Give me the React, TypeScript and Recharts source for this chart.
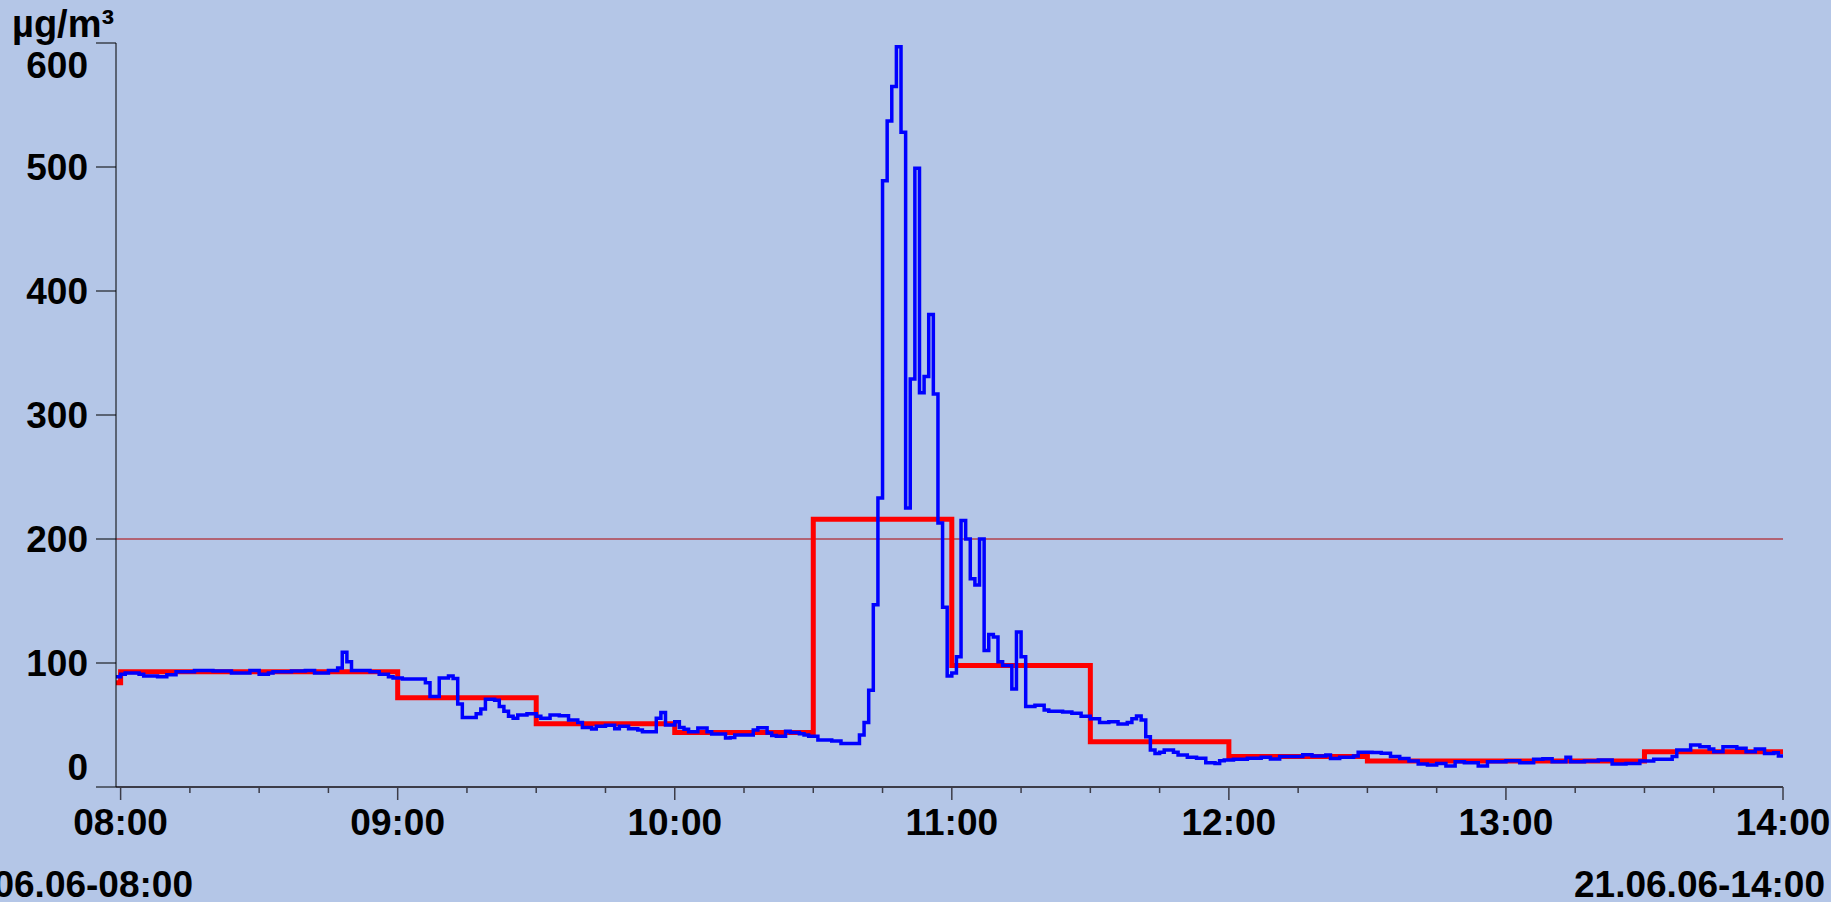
import { Line, LineChart, ReferenceLine, XAxis, YAxis } from 'recharts'

const BG = '#B4C6E7'
const AXIS = '#3c3c48'
const FONT = '"Liberation Sans", Arial, sans-serif'

// minutes after 08:00 → 1-min readings (blue), half-hour means (red)
const BLUE_T = [
  -1, 0, 1, 4, 5, 8, 10, 12, 16, 20, 24, 28, 30, 32, 33, 37, 40, 42, 45, 47, 48, 49, 50, 54, 56, 58, 59, 61, 65, 66,
  67, 69, 71, 72, 73, 74, 77, 78, 79, 81, 82, 83, 84, 85, 86, 88, 90, 91, 93, 95, 97, 99, 100, 102, 103, 105, 107,
  108, 110, 112, 113, 116, 117, 118, 120, 121, 122, 123, 125, 127, 128, 131, 132, 133, 137, 138, 140, 141, 142, 144,
  145, 147, 148, 149, 150, 151, 154, 156, 160, 161, 162, 163, 164, 165, 166, 167, 168, 169, 170, 171, 172, 173, 174,
  175, 176, 177, 178, 179, 180, 181, 182, 183, 184, 185, 186, 187, 188, 189, 190, 191, 193, 194, 195, 196, 198, 200,
  201, 204, 206, 208, 210, 212, 214, 216, 218, 219, 220, 221, 222, 223, 224, 225, 226, 228, 229, 231, 233, 235, 237,
  238, 239, 241, 244, 247, 249, 251, 254, 256, 258, 261, 262, 264, 267, 268, 271, 273, 275, 277, 279, 281, 283, 285,
  287, 289, 291, 294, 296, 300, 303, 306, 308, 310, 313, 314, 317, 320, 323, 326, 329, 332, 336, 337, 340, 342, 344,
  345, 347, 350, 352, 354, 356, 358, 359, 360,
]
const BLUE_V = [
  89, 91, 92, 91, 89.5, 89, 90.6, 93, 94, 93.5, 92, 94, 91, 92, 93, 93.5, 94, 92, 94, 96, 108.6, 101, 94, 93, 91, 89,
  88, 87, 87, 84, 73, 88, 89.5, 87.6, 67, 56, 59, 63, 70.7, 70, 65, 61, 57, 55.4, 58, 59, 57, 55.4, 58, 57.4, 54, 52,
  48, 46.8, 49, 49.7, 47, 49, 47, 46, 44.6, 55.4, 60, 50, 52.7, 48, 46.5, 44.6, 47.6, 44.6, 42.7, 39.5, 40, 42, 46,
  47.8, 43.5, 41.6, 41, 45, 44, 43, 42, 41, 41, 38, 37, 35, 42, 52, 78, 147, 233, 489, 537, 565, 597, 528, 225, 329,
  499, 318, 331, 381, 317, 213, 145, 89.5, 92, 105, 215, 200, 168, 163, 200, 110, 123, 121, 101, 98, 79, 125, 105, 65,
  66, 62, 61, 60.5, 59.5, 57, 55, 52, 52.7, 50.8, 52, 55, 57.3, 54, 40.6, 29.8, 27, 28, 29.8, 28, 25.8, 24, 23.2, 19.6,
  19, 21.2, 21.8, 22.3, 23.2, 24, 22.6, 24.5, 24.5, 26, 25, 25.8, 22.9, 24, 25, 28, 27.8, 27.2, 24.5, 23, 21, 18.5,
  17.7, 19, 17, 20.4, 19.6, 17, 20.4, 21.2, 19.6, 22.3, 22.8, 20.4, 24, 20.4, 21, 21.8, 18.5, 19, 21, 22.3, 24.5, 29.8,
  33.9, 32.5, 30.6, 28.5, 32.5, 31.2, 28.5, 30.6, 27, 27.6, 25, 25,
]
const RED_T = [-1, 0, 60, 90, 120, 150, 180, 210, 240, 270, 330, 360]
const RED_V = [84, 93, 72, 51, 44, 216, 98, 36.5, 24.5, 21, 28.5, 28.5]

const X_TICKS = [0, 15, 30, 45, 60, 75, 90, 105, 120, 135, 150, 165, 180, 195, 210, 225, 240, 255, 270, 285, 300, 315, 330, 345, 360]
const HOUR_LABELS = ['08:00', '09:00', '10:00', '11:00', '12:00', '13:00', '14:00']
const Y_TICKS = [0, 100, 200, 300, 400, 500, 600]
const LIMIT = 200

const blue = BLUE_T.map((t, i) => ({ t, v: BLUE_V[i] }))
const red = RED_T.map((t, i) => ({ t, v: RED_V[i] }))

// hour ticks long + label, quarter ticks short
function XTick(props: { x?: number; y?: number; payload?: { value: number } }) {
  const { x = 0, y = 0, payload } = props
  if (!payload) return null
  const v = payload.value
  const major = v % 60 === 0
  return (
    <g>
      <line x1={x} y1={y} x2={x} y2={y + (major ? 13 : 6)} stroke={AXIS} strokeWidth={1.5} />
      {major && (
        <text x={x} y={y + 48} textAnchor="middle" fontFamily={FONT} fontWeight={700} fontSize={37} fill="#000">
          {HOUR_LABELS[v / 60]}
        </text>
      )}
    </g>
  )
}

// end labels pulled inside the axis range
function YTick(props: { x?: number; y?: number; payload?: { value: number } }) {
  const { x = 0, y = 0, payload } = props
  if (!payload) return null
  const v = payload.value
  const by = v === 0 ? y - 7 : v === 600 ? y + 35 : y + 13
  return (
    <text x={x} y={by} textAnchor="end" fontFamily={FONT} fontWeight={700} fontSize={37} fill="#000">
      {v}
    </text>
  )
}

export default function App() {
  return (
    <div style={{ position: 'absolute', left: 0, top: 0, width: 1831, height: 902, background: BG, overflow: 'hidden' }}>
      <LineChart width={1831} height={902} margin={{ top: 43, right: 48, left: 0, bottom: 0 }}>
        <XAxis
          dataKey="t"
          type="number"
          domain={[-1, 360]}
          ticks={X_TICKS}
          interval={0}
          height={115}
          tickSize={0}
          tickMargin={0}
          tickLine={false}
          axisLine={{ stroke: AXIS, strokeWidth: 2 }}
          tick={<XTick />}
          allowDataOverflow
        />
        <YAxis
          type="number"
          domain={[0, 600]}
          ticks={Y_TICKS}
          interval={0}
          width={116}
          tickSize={20}
          tickMargin={8}
          tickLine={{ stroke: '#000', strokeWidth: 1 }}
          axisLine={{ stroke: '#000', strokeWidth: 1 }}
          tick={<YTick />}
          allowDataOverflow
        />
        <ReferenceLine y={LIMIT} stroke="#B00000" strokeWidth={1} />
        <Line data={red} dataKey="v" type="stepAfter" stroke="#FF0000" strokeWidth={5} dot={false} isAnimationActive={false} />
        <Line data={blue} dataKey="v" type="stepAfter" stroke="#0000FF" strokeWidth={3.5} dot={false} isAnimationActive={false} />
      </LineChart>
      <svg width={1831} height={902} style={{ position: 'absolute', left: 0, top: 0, pointerEvents: 'none' }}>
        <g fontFamily={FONT} fontWeight={700} fill="#000">
          <text x={12} y={37} fontSize={38}>µg/m³</text>
          <text x={193} y={897} fontSize={37} textAnchor="end">21.06.06-08:00</text>
          <text x={1825} y={897} fontSize={37} textAnchor="end">21.06.06-14:00</text>
        </g>
      </svg>
    </div>
  )
}
